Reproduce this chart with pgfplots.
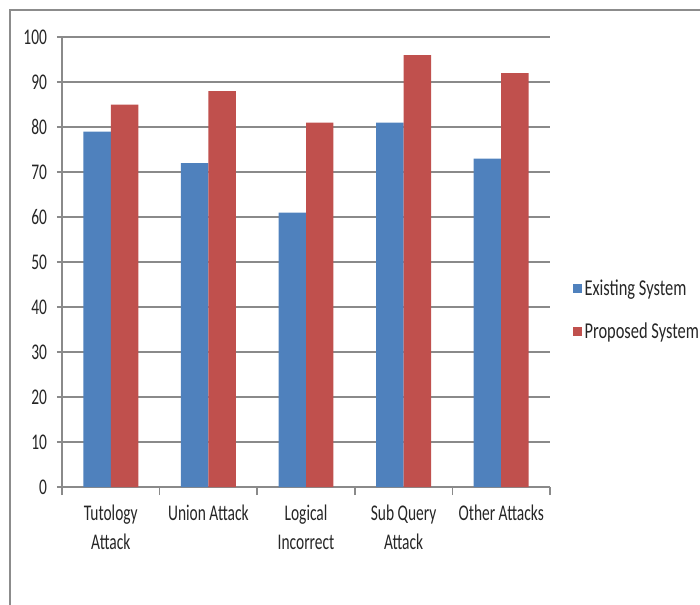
\documentclass[border=0pt]{standalone}
\usepackage{fontspec}
\setmainfont{Carlito}
\newfontfamily\tickfont{Carlito}[FakeStretch=0.69]
\newfontfamily\legfont{Carlito}[FakeStretch=0.725]
\usepackage{pgfplots}
\pgfplotsset{compat=1.18}
\definecolor{exist}{HTML}{4F81BD}
\definecolor{prop}{HTML}{C0504D}
\definecolor{gridg}{HTML}{8A8A8A}
\definecolor{frameg}{HTML}{8C8C8C}
\begin{document}
\begin{tikzpicture}
\path[use as bounding box] (0,0) rectangle (525pt,-453pt);
\draw[frameg, line width=1.4pt] (7.5pt,-480pt) -- (7.5pt,-7.5pt) -- (560pt,-7.5pt);
\begin{axis}[
  at={(46.5pt,-365.25pt)}, anchor=south west,
  scale only axis, width=366pt, height=337.5pt,
  ybar=0pt, bar width=20.6pt,
  xmin=-0.5, xmax=4.5, ymin=0, ymax=100,
  ytick={0,10,...,100},
  ymajorgrids, grid style={gridg, line width=1.1pt},
  axis x line*=bottom, axis y line*=left,
  axis line style={gridg, line width=1.1pt},
  tick align=outside,
  xtick={0,1,2,3,4},
  xticklabels={{Tutology\\Attack},{Union Attack},{Logical\\Incorrect},{Sub Query\\Attack},{Other Attacks}},
  major x tick style={draw=none},
  minor xtick={-0.5,0.5,1.5,2.5,3.5,4.5},
  minor x tick style={gridg, line width=1.1pt},
  minor tick length=6pt,
  major tick length=3.75pt,
  y tick style={gridg, line width=1.1pt},
  tick label style={font=\fontsize{16.8}{21.75}\selectfont\tickfont, text=black!85},
  xticklabel style={align=center, yshift=-6pt},
  yticklabel style={xshift=-4pt},
  /pgf/number format/assume math mode=true,
  legend style={at={(1.047,0.393)}, anchor=west, draw=none, fill=none,
    font=\fontsize{17}{20}\selectfont\legfont, text=black!85, row sep=15pt,
    inner xsep=0pt},
  legend cell align=left,
  legend image code/.code={\fill[#1, draw=none] (0pt,-3.5pt) rectangle (6.5pt,3.5pt);},
]
\addplot[fill=exist, draw=none] coordinates {(0,79) (1,72) (2,61) (3,81) (4,73)};
\addplot[fill=prop, draw=none] coordinates {(0,85) (1,88) (2,81) (3,96) (4,92)};
\legend{Existing System, Proposed System}
\end{axis}
\end{tikzpicture}
\end{document}
